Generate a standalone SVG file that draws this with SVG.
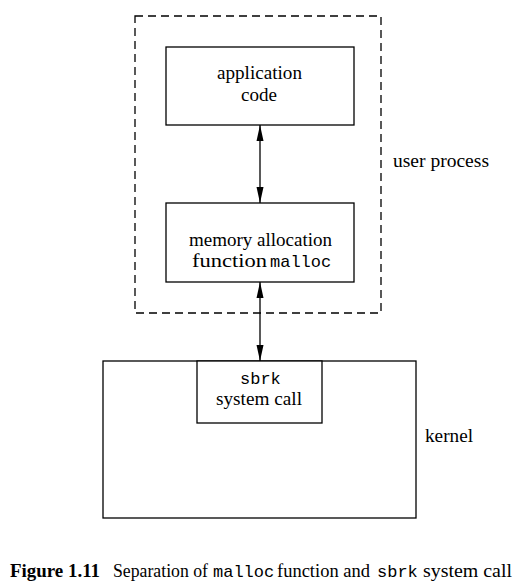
<svg xmlns="http://www.w3.org/2000/svg" width="521" height="585" viewBox="0 0 521 585">
<style>
  .box{fill:#fff;stroke:#000;stroke-width:1.3}
  .dash{fill:none;stroke:#000;stroke-width:1.3;stroke-dasharray:8 5}
  .t{font-family:"Liberation Serif","Times New Roman",serif;font-size:18.5px;fill:#000}
  .m{font-family:"Liberation Mono","Courier New",monospace;font-size:17px;fill:#000}
  .c{font-family:"Liberation Serif","Times New Roman",serif;font-size:18px;fill:#000}
  .cm{font-family:"Liberation Mono","Courier New",monospace;font-size:17px;fill:#000}
  .conn{stroke:#000;stroke-width:1.3;fill:none}
</style>
<defs>
  <marker id="arr" viewBox="0 -4 16 8" refX="16" refY="0" markerWidth="16" markerHeight="8" markerUnits="userSpaceOnUse" orient="auto-start-reverse">
    <path d="M0,-3.5 L16,0 L0,3.5 Z"/>
  </marker>
</defs>
<g id="user-process">
  <rect class="dash" x="135" y="16" width="246" height="297"/>
  <text class="t" x="393" y="167" textLength="96" lengthAdjust="spacingAndGlyphs">user process</text>
</g>
<g id="kernel">
  <rect class="box" x="103" y="361" width="313" height="157"/>
  <text class="t" x="425" y="442" textLength="48" lengthAdjust="spacingAndGlyphs">kernel</text>
</g>
<g id="application-code">
  <rect class="box" x="166" y="47" width="188" height="78"/>
  <text class="t" x="217" y="79" textLength="85" lengthAdjust="spacingAndGlyphs">application</text>
  <text class="t" x="241" y="101" textLength="36" lengthAdjust="spacingAndGlyphs">code</text>
</g>
<g id="malloc">
  <rect class="box" x="166" y="203" width="188" height="79"/>
  <text class="t" x="189" y="246" textLength="143" lengthAdjust="spacingAndGlyphs">memory allocation</text>
  <text class="t" x="192" y="267" textLength="75" lengthAdjust="spacingAndGlyphs">function</text>
  <text class="m" x="270" y="267">malloc</text>
</g>
<g id="sbrk">
  <rect class="box" x="197" y="361" width="125" height="62"/>
  <text class="m" x="240" y="384">sbrk</text>
  <text class="t" x="216" y="405" textLength="86" lengthAdjust="spacingAndGlyphs">system call</text>
</g>
<g id="connectors">
  <line class="conn" x1="260" y1="125" x2="260" y2="203" marker-start="url(#arr)" marker-end="url(#arr)"/>
  <line class="conn" x1="260" y1="282" x2="260" y2="361" marker-start="url(#arr)" marker-end="url(#arr)"/>
</g>
<g id="caption">
  <text class="c" y="577"><tspan x="10" font-weight="bold" textLength="90" lengthAdjust="spacingAndGlyphs">Figure 1.11</tspan><tspan x="113" textLength="95" lengthAdjust="spacingAndGlyphs">Separation of</tspan><tspan class="cm" x="213">malloc</tspan><tspan x="277" textLength="93" lengthAdjust="spacingAndGlyphs">function and</tspan><tspan class="cm" x="377">sbrk</tspan><tspan x="423" textLength="89" lengthAdjust="spacingAndGlyphs">system call</tspan></text>
</g>
</svg>
